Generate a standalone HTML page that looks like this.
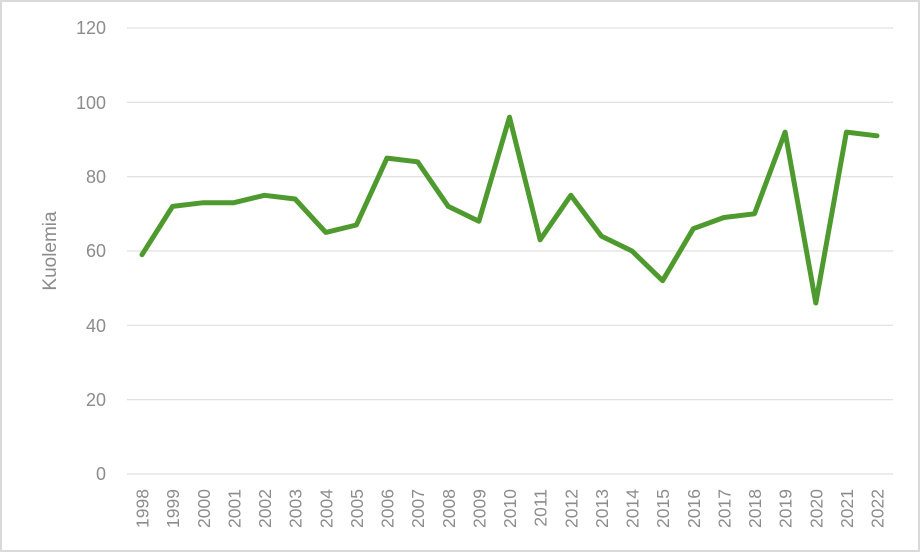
<!DOCTYPE html>
<html><head><meta charset="utf-8"><style>
html,body{margin:0;padding:0;background:#fff;}
svg{display:block;font-family:"Liberation Sans",sans-serif;}
</style></head><body>
<svg width="920" height="552" viewBox="0 0 920 552" xmlns="http://www.w3.org/2000/svg">
<rect x="1" y="1" width="918" height="550" fill="#fff" stroke="#d9d9d9" stroke-width="2"/>
<g stroke="#d9d9d9" stroke-width="1">
<line x1="127" x2="893" y1="28" y2="28"/>
<line x1="127" x2="893" y1="102.3" y2="102.3"/>
<line x1="127" x2="893" y1="176.7" y2="176.7"/>
<line x1="127" x2="893" y1="251" y2="251"/>
<line x1="127" x2="893" y1="325.3" y2="325.3"/>
<line x1="127" x2="893" y1="399.7" y2="399.7"/>
<line x1="127" x2="893" y1="474" y2="474"/>
</g>
<g fill="#8c8c8c" font-size="18" text-anchor="end">
<text x="106" y="34">120</text>
<text x="106" y="109">100</text>
<text x="106" y="183">80</text>
<text x="106" y="257">60</text>
<text x="106" y="332">40</text>
<text x="106" y="406">20</text>
<text x="106" y="480">0</text>
</g>
<text transform="translate(56,251) rotate(-90)" fill="#8c8c8c" font-size="19" text-anchor="middle">Kuolemia</text>
<g fill="#8c8c8c" font-size="17.5" text-anchor="end">
<text transform="translate(148.5,489) rotate(-90)">1998</text>
<text transform="translate(179.1,489) rotate(-90)">1999</text>
<text transform="translate(209.8,489) rotate(-90)">2000</text>
<text transform="translate(240.4,489) rotate(-90)">2001</text>
<text transform="translate(271,489) rotate(-90)">2002</text>
<text transform="translate(301.6,489) rotate(-90)">2003</text>
<text transform="translate(332.3,489) rotate(-90)">2004</text>
<text transform="translate(362.9,489) rotate(-90)">2005</text>
<text transform="translate(393.5,489) rotate(-90)">2006</text>
<text transform="translate(424.1,489) rotate(-90)">2007</text>
<text transform="translate(454.8,489) rotate(-90)">2008</text>
<text transform="translate(485.4,489) rotate(-90)">2009</text>
<text transform="translate(516,489) rotate(-90)">2010</text>
<text transform="translate(546.6,489) rotate(-90)">2011</text>
<text transform="translate(577.3,489) rotate(-90)">2012</text>
<text transform="translate(607.9,489) rotate(-90)">2013</text>
<text transform="translate(638.5,489) rotate(-90)">2014</text>
<text transform="translate(669.1,489) rotate(-90)">2015</text>
<text transform="translate(699.8,489) rotate(-90)">2016</text>
<text transform="translate(730.4,489) rotate(-90)">2017</text>
<text transform="translate(761,489) rotate(-90)">2018</text>
<text transform="translate(791.6,489) rotate(-90)">2019</text>
<text transform="translate(822.3,489) rotate(-90)">2020</text>
<text transform="translate(852.9,489) rotate(-90)">2021</text>
<text transform="translate(883.5,489) rotate(-90)">2022</text>
</g>
<polyline fill="none" stroke="#4e9a2e" stroke-width="5" stroke-linejoin="round" stroke-linecap="round"
points="142,254.7 172.6,206.4 203.3,202.7 233.9,202.7 264.5,195.3 295.1,199 325.8,232.4 356.4,225 387,158.1 417.6,161.8 448.3,206.4 478.9,221.3 509.5,117.2 540.1,239.8 570.8,195.3 601.4,236.1 632,251 662.6,280.7 693.3,228.7 723.9,217.5 754.5,213.8 785.1,132.1 815.8,303 846.4,132.1 877,135.8"/>
</svg>
</body></html>
